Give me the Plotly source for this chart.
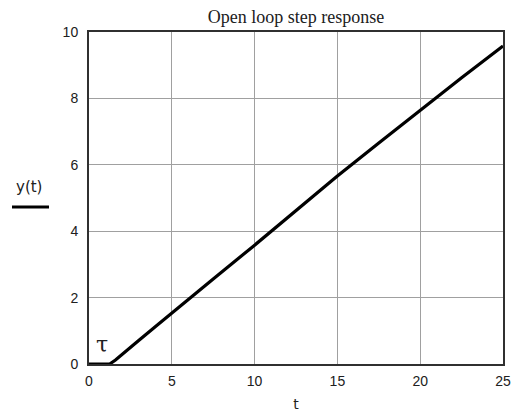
import plotly.graph_objects as go

# Open-loop response sampled at a few instants (dead time, then a steady ramp)
t_vals = [0, 0.5, 1.0, 1.25, 1.6, 2.2, 3.0, 4.0, 5.0, 7.5, 10.0, 12.5, 15.0, 17.5, 20.0, 22.5, 25.0]
y_vals = [0, 0, 0, 0.0, 0.12, 0.38, 0.71, 1.12, 1.54, 2.56, 3.58, 4.62, 5.66, 6.66, 7.65, 8.62, 9.58]

x_ticks = [0, 5, 10, 15, 20, 25]
y_ticks = [0, 2, 4, 6, 8, 10]

W, H = 516, 414
L, R, T, B = 89, 13, 32, 50
PW, PH = W - L - R, H - T - B

fig = go.Figure()
fig.add_trace(go.Scatter(
    x=t_vals, y=y_vals, mode="lines",
    line=dict(color="black", width=3.2),
    showlegend=False, hoverinfo="skip",
))

axis_common = dict(
    showgrid=True, gridcolor="#a0a0a0", gridwidth=1,
    showline=True, linecolor="#303030", linewidth=2, mirror=True,
    zeroline=False, ticks="", automargin=False,
    tickfont=dict(family="Liberation Sans", size=14, color="#202020"),
)

fig.update_layout(
    width=W, height=H, autosize=False,
    margin=dict(l=L, r=R, t=T, b=B, autoexpand=False),
    paper_bgcolor="white", plot_bgcolor="white",
    title=dict(text="Open loop step response", x=0.5, xref="paper",
               y=1, yref="paper", yanchor="bottom", pad=dict(b=9),
               font=dict(family="Liberation Serif", size=18, color="#202020")),
    xaxis=dict(range=[0, 25], tickvals=x_ticks, ticklabelstandoff=3,
               title=dict(text="t", font=dict(family="DejaVu Sans", size=14, color="#202020"), standoff=11),
               **axis_common),
    yaxis=dict(range=[0, 10], tickvals=y_ticks, ticklabelstandoff=6,
               **axis_common),
    annotations=[
        dict(text="y(t)", xref="paper", yref="paper", x=(14 - L) / PW, y=(H - B - 187) / PH,
             xanchor="left", yanchor="middle", showarrow=False,
             font=dict(family="DejaVu Sans", size=15, color="#202020")),
        dict(text="τ", xref="x", yref="y", x=0.78, y=0.6,
             xanchor="center", yanchor="middle", showarrow=False,
             font=dict(family="DejaVu Serif", size=22, color="#202020")),
    ],
    shapes=[
        dict(type="line", xref="paper", yref="paper",
             x0=(12 - L) / PW, x1=(49 - L) / PW,
             y0=(H - B - 207) / PH, y1=(H - B - 207) / PH,
             line=dict(color="black", width=3.2)),
    ],
)

fig.write_html("out.html")
